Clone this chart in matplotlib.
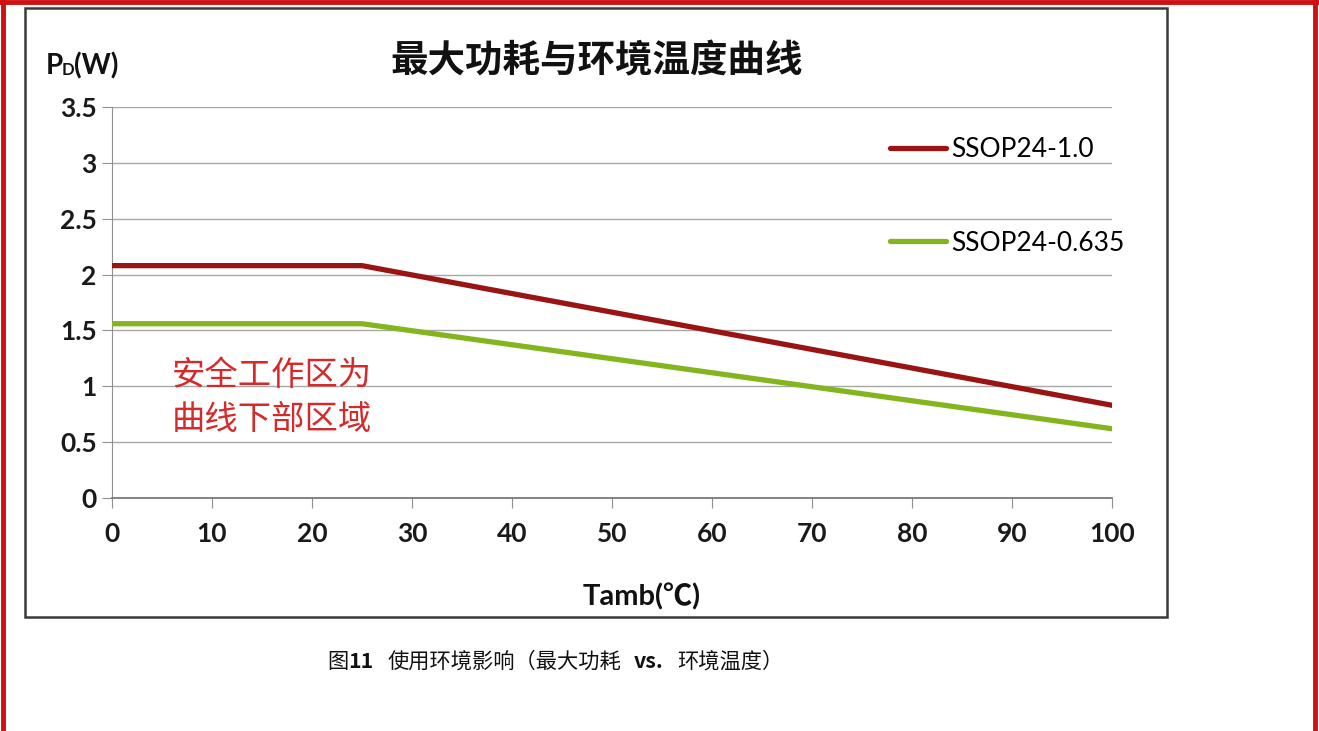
import matplotlib
matplotlib.use("Agg")
import matplotlib.pyplot as plt
from matplotlib.patches import Rectangle
from matplotlib.lines import Line2D

# data
temps = [0, 25, 100]
pd_ssop24_10 = [2.08, 2.08, 0.83]
pd_ssop24_0635 = [1.56, 1.56, 0.62]
x_ticks = [0, 10, 20, 30, 40, 50, 60, 70, 80, 90, 100]
y_ticks = [0, 0.5, 1, 1.5, 2, 2.5, 3, 3.5]
y_labels = ["0", "0.5", "1", "1.5", "2", "2.5", "3", "3.5"]

W, H = 1319, 731
fig = plt.figure(figsize=(W / 100, H / 100), dpi=100)
fig.patch.set_facecolor("white")

def fx(px):
    return px / W

def fy(py):
    return 1 - py / H

latin = ["Lato", "Noto Sans CJK SC", "DejaVu Sans"]
cjk = ["Noto Sans CJK SC", "DejaVu Sans"]

# outer red frame and inner chart box
fig.add_artist(Line2D([fx(3), fx(3)], [fy(0), fy(H)], color="#d01010", lw=3.5))
fig.add_artist(Line2D([fx(0), fx(W)], [fy(2), fy(2)], color="#d01010", lw=3.5))
fig.add_artist(Line2D([fx(1315), fx(1315)], [fy(0), fy(H)], color="#d01010", lw=3.5))
fig.add_artist(Rectangle((fx(25), fy(617)), fx(1167) - fx(25), fy(8) - fy(617),
                         transform=fig.transFigure, fill=False,
                         edgecolor="#3a3a3a", lw=1.8))

ax = fig.add_axes([fx(112), fy(498), fx(1112) - fx(112), fy(107) - fy(498)])
ax.set_xlim(0, 100)
ax.set_ylim(0, 3.5)

ax.plot(temps, pd_ssop24_10, color="#9a1414", lw=3.8, label="SSOP24-1.0",
        solid_capstyle="round", zorder=3)
ax.plot(temps, pd_ssop24_0635, color="#84b51e", lw=3.8, label="SSOP24-0.635",
        solid_capstyle="round", zorder=3)

ax.set_xticks(x_ticks)
ax.set_yticks(y_ticks)
ax.set_yticklabels(y_labels)
ax.grid(axis="y", color="#a8a8a8", lw=1.0)
ax.grid(axis="x", visible=False)
ax.set_axisbelow(True)
for s in ["top", "right"]:
    ax.spines[s].set_visible(False)
ax.spines["left"].set_color("#909090")
ax.spines["bottom"].set_color("#707070")
ax.spines["bottom"].set_linewidth(1.2)
ax.tick_params(axis="y", direction="out", length=7, color="#909090", pad=4)
ax.tick_params(axis="x", direction="out", length=7, color="#909090", pad=10)
for lab in ax.get_xticklabels() + ax.get_yticklabels():
    lab.set_family(latin)
    lab.set_fontsize(19)
    lab.set_fontweight("bold")
    lab.set_color("#1a1a1a")

ax.legend(loc="upper left", bbox_to_anchor=(0.757, 0.977), frameon=False,
          handlelength=2.1, handletextpad=0.2, labelspacing=2.6,
          borderpad=0.3, prop={"family": latin, "size": 19})

ax.text(6, 0.9, "安全工作区为\n曲线下部区域", color="#d42a2a", fontsize=24,
        family=cjk, linespacing=1.3, va="center", ha="left")

# title and axis labels
fig.text(fx(597), fy(61), "最大功耗与环境温度曲线", ha="center", va="center",
         fontsize=27, fontweight="bold", family=cjk, color="#111111")
fig.text(fx(46), fy(66), "P", ha="left", va="center", fontsize=20,
         fontweight="bold", family=latin, color="#111111")
fig.text(fx(62), fy(70), "D", ha="left", va="center", fontsize=12,
         fontweight="bold", family=latin, color="#111111")
fig.text(fx(74), fy(66), "(W)", ha="left", va="center", fontsize=20,
         fontweight="bold", family=latin, color="#111111")
fig.text(fx(642), fy(597), "Tamb(℃)", ha="center", va="center", fontsize=21,
         fontweight="bold", family=latin, color="#111111")

# caption, pieces chained left to right
parts = [("图", "normal", 0), ("11", "bold", 0), ("使用环境影响（最大功耗", "normal", 10),
         ("vs.", "bold", 9), ("环境温度）", "normal", 10)]
prev = None
for txt, wt, gap in parts:
    if prev is None:
        prev = fig.text(fx(327), fy(662), txt, ha="left", va="center", fontsize=15.3,
                        fontweight=wt, family=cjk, color="#111111")
    else:
        prev = ax.annotate(txt, xy=(1, 0.5), xycoords=prev, xytext=(gap, 0),
                           textcoords="offset points", ha="left", va="center",
                           fontsize=15.3, fontweight=wt, family=cjk, color="#111111",
                           annotation_clip=False)

fig.savefig("out.png", dpi=100)
